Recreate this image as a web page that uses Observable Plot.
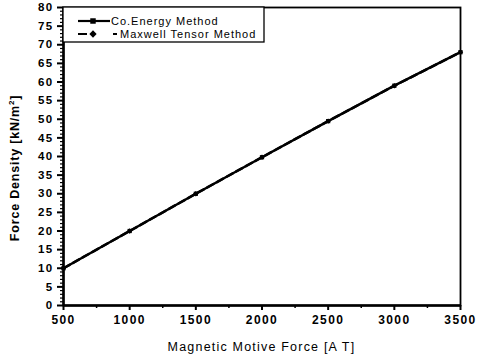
<!DOCTYPE html>
<html>
<head>
<meta charset="utf-8">
<script src="https://cdn.jsdelivr.net/npm/d3@7"></script>
<script src="https://cdn.jsdelivr.net/npm/@observablehq/plot@0.6"></script>
<style>
  html, body { margin: 0; padding: 0; background: #fff; }
  #chart svg { display: block; }
</style>
</head>
<body>
<div id="chart"></div>
<script>
const mmf = [500, 1000, 1500, 2000, 2500, 3000, 3500];
const coEnergy = [10, 20, 30, 39.8, 49.5, 59, 68];
const maxwell = [10, 20, 30, 39.8, 49.5, 59, 68];
const xTicks = [500, 1000, 1500, 2000, 2500, 3000, 3500];
const xMinor = [750, 1250, 1750, 2250, 2750, 3250];
const yTicks = d3.range(0, 81, 5);
const yMinor = d3.range(0, 81, 1).filter(d => d % 5 !== 0);
const seriesNames = ["Co.Energy Method", "Maxwell Tensor Method"];
const xTitle = "Magnetic Motive Force [A T]";

const rowsA = mmf.map((x, i) => ({x, y: coEnergy[i]}));
const rowsB = mmf.map((x, i) => ({x, y: maxwell[i]}));

const W = 483, H = 356, mL = 63, mR = 23, mT = 7, mB = 51;

const plot = Plot.plot({
  width: W, height: H,
  marginLeft: mL, marginRight: mR, marginTop: mT, marginBottom: mB,
  style: {fontFamily: "Liberation Sans, Arial, sans-serif", fontSize: "11px", color: "#000", background: "#fff"},
  x: {domain: [500, 3500], label: null},
  y: {domain: [0, 80], label: null},
  marks: [
    Plot.axisX({ticks: xTicks, tickSize: 5, tickPadding: 5, strokeWidth: 2, fontSize: 12, fontWeight: "bold", tickFormat: d3.format("d"), ariaLabel: "xmajor"}),
    Plot.axisX({ticks: xMinor, tickSize: 3, tickFormat: () => "", strokeWidth: 1.5}),
    Plot.axisY({ticks: yTicks, tickSize: 6, tickPadding: 4, strokeWidth: 2, fontSize: 11.5, fontWeight: "bold", ariaLabel: "ymajor"}),
    Plot.axisY({ticks: yMinor, tickSize: 3, tickFormat: () => "", strokeWidth: 1.2}),
    Plot.line(rowsA, {x: "x", y: "y", stroke: "#000", strokeWidth: 2.5}),
    Plot.line(rowsB, {x: "x", y: "y", stroke: "#000", strokeWidth: 2.5, strokeDasharray: "7,4"}),
    Plot.dot(rowsA, {x: "x", y: "y", symbol: "square", r: 2.4, fill: "#000"}),
    Plot.dot(rowsB, {x: "x", y: "y", symbol: "diamond2", r: 2.4, fill: "#000"}),
    Plot.frame({stroke: "#000", strokeWidth: 1.8}),
    Plot.ruleX([500], {stroke: "#000", strokeWidth: 2.5}),
    Plot.ruleY([0], {stroke: "#000", strokeWidth: 2.5})
  ]
});

const svg = d3.select(plot);
svg.selectAll("text").attr("letter-spacing", "1.4px");

// axis titles
svg.append("text")
  .attr("x", mL + (W - mL - mR) / 2).attr("y", 351)
  .attr("text-anchor", "middle")
  .attr("font-size", 12.5).attr("letter-spacing", "1.2px")
  .attr("fill", "#000")
  .text(xTitle);

const yt = svg.append("text")
  .attr("transform", `translate(19,${168}) rotate(-90)`)
  .attr("text-anchor", "middle")
  .attr("font-size", 12.5).attr("letter-spacing", "0.8px")
  .attr("font-weight", "bold")
  .attr("fill", "#000");
yt.append("tspan").text("Force Density [kN/m");
yt.append("tspan").attr("font-size", 8).attr("dy", -5).text("2");
yt.append("tspan").attr("dy", 5).text("]");

// legend
const lg = svg.append("g").attr("text-anchor", "start");
lg.append("rect").attr("x", mL).attr("y", mT).attr("width", 201).attr("height", 35)
  .attr("fill", "#fff").attr("stroke", "#000").attr("stroke-width", 1.3);
lg.append("line").attr("x1", 78).attr("x2", 110).attr("y1", 21).attr("y2", 21)
  .attr("stroke", "#000").attr("stroke-width", 2.2);
lg.append("path").attr("d", d3.symbol(d3.symbolSquare, 30)()).attr("transform", "translate(93,21)").attr("fill", "#000");
lg.append("line").attr("x1", 78).attr("x2", 117).attr("y1", 34).attr("y2", 34)
  .attr("stroke", "#000").attr("stroke-width", 2.2).attr("stroke-dasharray", "9,26,4");
lg.append("path").attr("d", d3.symbol(d3.symbolDiamond2, 34)()).attr("transform", "translate(93,34)").attr("fill", "#000");
lg.append("text").attr("x", 111).attr("y", 25).attr("text-anchor", "start").attr("font-size", 11).attr("letter-spacing", "1px").attr("fill", "#000").text(seriesNames[0]);
lg.append("text").attr("x", 120).attr("y", 38).attr("text-anchor", "start").attr("font-size", 11).attr("letter-spacing", "1px").attr("fill", "#000").text(seriesNames[1]);

document.getElementById("chart").appendChild(plot);
</script>
</body>
</html>
